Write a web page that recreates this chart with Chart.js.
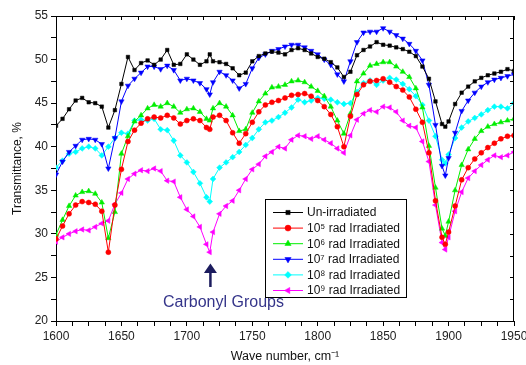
<!DOCTYPE html>
<html><head><meta charset="utf-8">
<script src="https://cdn.jsdelivr.net/npm/chart.js@4.4.1/dist/chart.umd.min.js"></script>
<style>html,body{margin:0;padding:0;background:#fff;} #wrap{width:526px;height:365px;position:relative;}</style>
</head><body><div id="wrap"><canvas id="c" width="526" height="365"></canvas></div>
<script>
const wavenumbers = [1600,1605,1610,1615,1620,1625,1630,1635,1640,1645,
 1650,1655,1660,1665,1670,1675,1680,1685,1690,1695,
 1700,1705,1710,1715,1717.5,1720,1725,1730,1735,1740,
 1745,1750,1755,1760,1765,1770,1775,1780,1785,1790,
 1795,1800,1805,1810,1815,1820,1825,1830,1835,1840,
 1845,1850,1855,1860,1865,1870,1875,1880,1885,1890,
 1895,1897.5,1900,1905,1910,1915,1920,1925,1930,1935,
 1940,1945,1950];

const unIrradiated = [42.4,43.2,44.3,45.3,45.6,45.1,45.0,44.6,42.2,44.2,
 47.2,50.3,48.8,49.6,49.9,49.4,50.0,51.1,49.4,49.5,
 50.6,50.0,49.4,49.8,50.6,49.8,49.7,49.5,49.0,48.2,
 48.5,49.8,50.4,50.7,50.9,50.8,50.6,51.1,51.3,51.1,
 50.7,50.3,50.1,49.7,49.1,48.0,48.6,50.5,51.1,51.5,
 52.0,51.7,51.6,51.4,51.2,50.9,50.4,49.2,47.8,45.2,
 42.6,42.3,42.9,44.9,46.2,46.9,47.5,47.9,48.2,48.4,
 48.6,48.9,48.7];

const rad1e5 = [29.4,30.9,32.3,33.3,33.7,33.6,33.4,32.6,27.9,33.3,
 37.4,40.6,41.9,42.7,43.2,43.4,43.3,43.6,43.3,42.6,
 43.0,43.2,43.0,42.2,42.0,43.4,43.6,43.0,41.6,40.4,
 41.5,42.8,44.0,44.8,45.1,45.3,45.6,45.9,46.0,46.1,
 45.8,45.3,44.6,43.7,42.3,40.0,43.5,46.0,47.1,47.5,
 47.6,47.8,47.4,46.9,46.5,45.7,44.3,42.8,39.3,33.8,
 29.6,28.8,30.2,33.2,36.2,37.6,38.6,39.3,39.9,40.4,
 40.9,41.2,41.3];

const rad1e6 = [29.9,31.6,33.2,34.4,34.8,34.9,34.6,33.6,29.5,32.5,
 39.2,41.2,42.9,43.6,44.4,44.8,44.6,45.0,44.6,43.9,
 44.3,44.4,44.0,43.2,43.0,44.4,45.0,44.6,43.6,41.8,
 42.0,43.9,45.2,46.1,46.8,46.9,47.1,47.5,47.6,47.4,
 46.9,46.4,45.8,44.6,43.0,41.5,43.8,47.5,48.4,49.3,
 49.5,49.7,49.7,49.2,48.6,48.0,46.7,44.5,40.1,35.3,
 30.6,29.8,31.4,35.0,37.9,39.7,40.9,41.8,42.3,42.6,
 42.8,43.0,43.2];

const rad1e7 = [36.8,38.3,39.4,40.1,40.8,40.9,40.8,40.3,37.5,41.0,
 45.2,47.0,47.8,48.5,49.2,49.2,48.9,49.3,48.8,47.6,
 47.8,47.6,47.3,46.6,46.0,47.4,48.6,48.2,47.6,46.7,
 47.2,49.0,50.2,50.6,51.0,51.2,51.5,51.7,51.7,51.4,
 51.0,50.6,50.0,49.4,48.3,47.5,49.8,52.0,53.1,53.2,
 53.2,53.6,53.2,52.8,52.4,51.8,51.0,49.9,47.1,42.5,
 37.8,36.7,38.7,41.6,44.1,45.3,46.2,46.9,47.4,47.7,
 47.9,48.1,48.3];

const rad1e8 = [37.6,38.4,39.2,39.4,39.8,40.0,39.8,39.0,40.0,41.0,
 41.6,41.5,43.0,43.1,43.0,43.2,42.0,41.9,40.7,39.0,
 38.2,37.1,35.8,34.2,33.7,36.3,37.6,38.2,38.8,39.4,
 40.2,41.0,42.0,42.8,43.0,43.4,43.9,44.5,45.4,45.1,
 45.3,45.6,45.5,45.4,45.1,44.9,45.0,46.3,47.3,47.6,
 47.1,47.6,47.9,47.7,47.2,46.6,45.8,44.8,43.0,41.2,
 38.5,38.1,39.1,41.0,42.2,42.9,43.3,43.7,44.2,44.6,
 44.6,44.4,45.0];

const rad1e9 = [29.1,29.6,30.0,30.3,30.5,30.4,30.8,31.2,31.5,33.4,
 34.7,36.3,36.9,37.3,37.2,37.5,37.2,36.1,36.0,34.2,
 32.8,32.0,30.8,28.8,27.9,30.2,32.3,33.2,33.8,35.0,
 36.3,37.4,38.0,38.9,39.4,40.0,39.8,40.8,41.3,41.2,
 40.9,41.2,40.8,40.4,39.8,39.3,41.3,43.1,43.8,44.2,
 44.0,44.6,44.5,44.0,43.0,42.4,42.2,40.6,38.3,33.3,
 29.0,28.2,29.6,32.6,34.8,36.4,37.2,37.9,38.5,39.0,
 38.8,39.0,39.4];

const seriesLabels = ['Un-irradiated','10\u2075 rad Irradiated','10\u2076 rad Irradiated','10\u2077 rad Irradiated','10\u2078 rad Irradiated','10\u2079 rad Irradiated'];
const xTitle = 'Wave number, cm\u207B\u00B9';
const yTitle = 'Transmittance, %';
const annotationText = 'Carbonyl Groups';
const annotationAt = 1718;

const FONT = '"Liberation Sans", Arial, Helvetica, sans-serif';
const styles = [
  {c:'#000000', p:'rect', r:2.5, rot:0},
  {c:'#ff0000', p:'circle', r:2.5, rot:0},
  {c:'#00ee00', p:'triangle', r:3.1, rot:0},
  {c:'#0000ff', p:'triangle', r:3.1, rot:180},
  {c:'#00ffff', p:'rectRot', r:2.9, rot:0},
  {c:'#ff00ff', p:'triangle', r:3.1, rot:-90}
];
const allSeries = [unIrradiated, rad1e5, rad1e6, rad1e7, rad1e8, rad1e9];

const datasets = allSeries.map((s,i)=>({
  label: seriesLabels[i],
  data: wavenumbers.map((w,j)=>({x:w, y:s[j]})),
  borderColor: styles[i].c,
  backgroundColor: styles[i].c,
  pointBackgroundColor: styles[i].c,
  pointBorderColor: styles[i].c,
  borderWidth: 1,
  pointRadius: styles[i].r,
  pointBorderWidth: 0.5,
  pointStyle: styles[i].p,
  pointRotation: styles[i].rot,
  tension: 0,
  fill: false
}));

function drawMarker(ctx, st, x, y){
  if (Chart.helpers && Chart.helpers.drawPoint) {
    ctx.fillStyle = st.c; ctx.strokeStyle = st.c; ctx.lineWidth = 0.5;
    Chart.helpers.drawPoint(ctx, {pointStyle: st.p, radius: st.r+0.5, rotation: st.rot, borderWidth:0.5}, x, y);
  }
}

const framePlugin = {
  id: 'frame',
  afterDatasetsDraw(chart){
    const {ctx, chartArea:a, scales:{x, y}} = chart;
    ctx.save();
    ctx.strokeStyle = '#000'; ctx.lineWidth = 1;
    ctx.beginPath();
    ctx.moveTo(a.left, a.top+0.5); ctx.lineTo(a.right, a.top+0.5);
    ctx.moveTo(a.right-0.5, a.top); ctx.lineTo(a.right-0.5, a.bottom);
    for (let v=1600; v<=1950; v+=12.5){ const px = Math.round(x.getPixelForValue(v))+0.5; ctx.moveTo(px, a.top); ctx.lineTo(px, a.top+4); }
    for (let v=20; v<=55; v+=2.5){ const py = Math.round(y.getPixelForValue(v))+0.5; ctx.moveTo(a.right, py); ctx.lineTo(a.right-4, py); }
    ctx.stroke();

    // annotation arrow + text
    const ax = x.getPixelForValue(annotationAt);
    const tip = y.getPixelForValue(26.6), base = y.getPixelForValue(25.5), tail = y.getPixelForValue(23.9);
    ctx.fillStyle = '#1c1c5e'; ctx.strokeStyle = '#1c1c5e';
    ctx.beginPath(); ctx.moveTo(ax, tip); ctx.lineTo(ax-6.5, base); ctx.lineTo(ax+6.5, base); ctx.closePath(); ctx.fill();
    ctx.lineWidth = 2.5; ctx.beginPath(); ctx.moveTo(ax, base-1); ctx.lineTo(ax, tail); ctx.stroke();
    ctx.fillStyle = '#35358a';
    ctx.font = '16px ' + FONT; ctx.textAlign = 'center'; ctx.textBaseline = 'middle';
    ctx.fillText(annotationText, x.getPixelForValue(1728), y.getPixelForValue(22.1));

    // legend box
    const lx = 265.5, ly = 199.5, lw = 141, lh = 98;
    ctx.fillStyle = '#fff'; ctx.fillRect(lx, ly, lw, lh);
    ctx.strokeStyle = '#000'; ctx.lineWidth = 1; ctx.strokeRect(lx, ly, lw, lh);
    ctx.font = '12px ' + FONT; ctx.textAlign = 'left'; ctx.textBaseline = 'middle';
    chart.data.datasets.forEach((ds,i)=>{
      const yy = 212.5 + i*15.6;
      ctx.strokeStyle = styles[i].c; ctx.lineWidth = 1;
      ctx.beginPath(); ctx.moveTo(273, yy); ctx.lineTo(303, yy); ctx.stroke();
      drawMarker(ctx, styles[i], 288, yy);
      ctx.fillStyle = '#111';
      ctx.fillText(ds.label, 307, yy+0.5);
    });
    ctx.restore();
  }
};

new Chart(document.getElementById('c'), {
  type: 'line',
  data: { datasets },
  options: {
    responsive: false,
    animation: false,
    devicePixelRatio: 1,
    layout: { padding: { top: 16, right: 12, left: 0, bottom: 0 } },
    plugins: { legend: { display: false }, tooltip: { enabled: false } },
    scales: {
      x: {
        type: 'linear', min: 1600, max: 1950,
        afterFit(s){ s.height = 44; s.paddingLeft = 0; s.paddingRight = 0; },
        ticks: { stepSize: 12.5, autoSkip: false, maxRotation: 0, padding: 3, color: '#222',
          font: { family: FONT, size: 12 },
          callback: v => (v % 50 === 0 ? String(v) : '') },
        grid: { drawOnChartArea: false, drawTicks: true, tickLength: 5, color: '#000' },
        border: { display: true, color: '#000', width: 1 },
        title: { display: true, text: xTitle, color: '#111', font: { family: FONT, size: 12.5 }, padding: { top: 0, bottom: 1 } }
      },
      y: {
        type: 'linear', min: 20, max: 55,
        afterFit(s){ s.width = 56; s.paddingTop = 0; s.paddingBottom = 0; },
        ticks: { stepSize: 2.5, autoSkip: false, padding: 3, color: '#222',
          font: { family: FONT, size: 12 },
          callback: v => (v % 5 === 0 ? String(v) : '') },
        grid: { drawOnChartArea: false, drawTicks: true, tickLength: 5, color: '#000' },
        border: { display: true, color: '#000', width: 1 },
        title: { display: true, text: yTitle, color: '#111', font: { family: FONT, size: 12 }, padding: { top: 10, bottom: 0 } }
      }
    }
  },
  plugins: [framePlugin]
});
</script></body></html>
